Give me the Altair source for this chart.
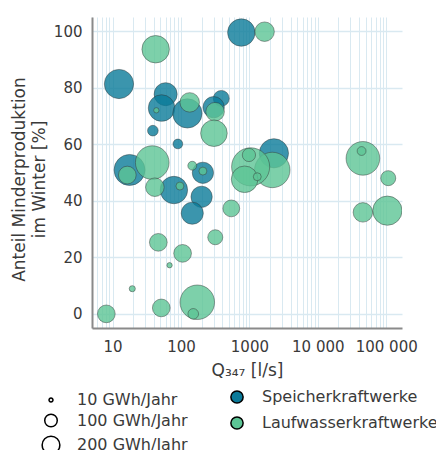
import altair as alt
import pandas as pd

# Speicherkraftwerke
sp_q = [12.4, 59.6, 52, 124, 388, 300, 38.8, 90, 17.7, 78.7, 209, 200, 146, 762, 2280]
sp_w = [81.3, 77.7, 72.8, 70.9, 76.2, 73.1, 64.8, 60.1, 50.9, 43.8, 49.9, 41.4, 35.6, 99.5, 56.8]
sp_e = [545, 338, 450, 545, 162, 288, 72, 60, 612, 480, 288, 288, 312, 480, 545]

# Laufwasserkraftwerke
lw_q = [42.6, 43.6, 134, 315, 303, 16.4, 38, 41.5, 96.4, 209, 146, 543, 317, 46.6, 105.5,
        68, 19.4, 51.5, 173, 151, 8.1, 1667, 2160, 1042, 851, 984, 1303, 45600, 43600,
        107000, 45600, 104000]
lw_w = [93.6, 72, 74.8, 71.5, 63.9, 49.1, 53.5, 44.8, 45.2, 50.5, 52.4, 37.3, 27.1, 25.3, 21.4,
        17.2, 8.9, 2.1, 4.1, 0, 0, 99.8, 50.9, 52, 47.6, 56.2, 48.5, 55, 57.6,
        48, 35.9, 36.5]
lw_e = [480, 18, 242, 220, 450, 200, 722, 220, 40, 40, 50, 180, 144, 200, 200,
        18, 24, 200, 760, 72, 200, 242, 800, 925, 450, 112, 40, 722, 50,
        144, 242, 545]

types = ["Speicherkraftwerke", "Laufwasserkraftwerke"]
colors = ["#0a7a99", "#5cc495"]
size_legend_values = [10, 100, 200]
y_ticks = [0, 20, 40, 60, 80, 100]
x_grid = [k * 10 ** n for n in range(0, 6) for k in range(1, 10) if 5 <= k * 10 ** n <= 170000]

df = pd.concat([
    pd.DataFrame({"q": sp_q, "w": sp_w, "e": sp_e, "typ": types[0]}),
    pd.DataFrame({"q": lw_q, "w": lw_w, "e": lw_e, "typ": types[1]}),
], ignore_index=True)

FONT = "DejaVu Sans"
TXT = "#3a3a3a"

label_expr = ("datum.value == 10 ? '10' : datum.value == 100 ? '100' : datum.value == 1000 ? '1000' : "
              "datum.value == 10000 ? '10 000' : datum.value == 100000 ? '100 000' : ''")

chart = alt.Chart(df).mark_circle(
    opacity=1, fillOpacity=0.8, stroke="#333333", strokeWidth=1, strokeOpacity=0.45, clip=True
).encode(
    x=alt.X("q:Q", scale=alt.Scale(type="log", domain=[5, 170000], nice=False),
            axis=alt.Axis(values=x_grid, labelExpr=label_expr, ticks=False, labelOverlap=False,
                          title="Q₃₄₇ [l/s]", labelPadding=11, titlePadding=8)),
    y=alt.Y("w:Q", scale=alt.Scale(domain=[-5, 105], nice=False, zero=False),
            axis=alt.Axis(values=y_ticks, ticks=False, labelPadding=10, titlePadding=5,
                          titleY=162,
                          title=["Anteil Minderproduktion", "im Winter [%]"])),
    size=alt.Size("e:Q", scale=alt.Scale(type="linear", domain=[0, 200], range=[0, 314]),
                  legend=alt.Legend(title=None, orient="none", legendX=-51, legendY=375,
                                    values=size_legend_values,
                                    labelExpr="datum.label + ' GWh/Jahr'",
                                    symbolFillColor="white", symbolStrokeColor="black",
                                    symbolStrokeWidth=1.5, symbolOpacity=1,
                                    labelOffset=16, labelFontSize=16, padding=0, rowPadding=2.5)),
    color=alt.Color("typ:N", scale=alt.Scale(domain=types, range=colors),
                    legend=alt.Legend(title=None, orient="none", legendX=137, legendY=372,
                                      symbolType="circle", symbolSize=150,
                                      symbolStrokeColor="black", symbolStrokeWidth=1.5,
                                      symbolOpacity=1, labelOffset=17, labelFontSize=16,
                                      labelLimit=0, padding=0, rowPadding=6)),
    order=alt.Order("typ_order:Q"),
).transform_calculate(
    typ_order="datum.typ == 'Speicherkraftwerke' ? 0 : 1"
).properties(
    width=310, height=311, autosize="none",
    padding={"left": 84, "top": 9, "right": 34, "bottom": 122},
).configure_view(stroke=None).configure_axis(
    labelFont=FONT, titleFont=FONT, labelColor=TXT, titleColor=TXT,
    labelFontSize=15, titleFontSize=17, titleFontWeight="normal", titleLineHeight=20,
    domainColor="#8a8a8a", domainWidth=2, gridColor="#d9e9f1", gridWidth=1,
).configure_axisY(gridWidth=1.5).configure_legend(
    labelFont=FONT, labelColor=TXT
)

chart.save("out.html", embed_options={"renderer": "svg", "actions": False})
